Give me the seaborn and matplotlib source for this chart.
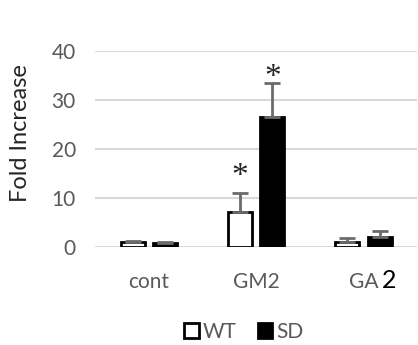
import pandas as pd
import seaborn as sns
import matplotlib.pyplot as plt
from matplotlib.patches import Patch

# values
categories = ["cont", "GM2", "GA"]
groups = ["WT", "SD"]
wt_mean = [1.0, 7.1, 1.1]
wt_err = [0.2, 4.0, 0.7]
sd_mean = [0.8, 26.6, 2.1]
sd_err = [0.2, 6.8, 1.2]
star_cat = ["GM2", "GM2"]
star_group = ["WT", "SD"]
star_y = [15.0, 35.2]

df = pd.DataFrame({
    "cat": categories * 2,
    "group": ["WT"] * 3 + ["SD"] * 3,
    "val": wt_mean + sd_mean,
    "err": wt_err + sd_err,
})

sns.set_style("white")
plt.rcParams["font.family"] = ["Lato", "DejaVu Sans"]

fig = plt.figure(figsize=(4.18, 3.45), dpi=100)
ax = fig.add_axes([0.228, 0.284, 0.77, 0.568])

sns.barplot(data=df, x="cat", y="val", hue="group", order=categories,
            hue_order=groups, palette={"WT": "white", "SD": "black"},
            width=0.6, gap=0.25, edgecolor="black", linewidth=2,
            errorbar=None, legend=False, ax=ax, zorder=3)

# error bars (upper only)
bars = [p for p in ax.patches if p.get_height() > 0]
xpos = {}
for p, (_, row) in zip(bars, df.iterrows()):
    xc = p.get_x() + p.get_width() / 2
    xpos[(row["cat"], row["group"])] = xc
    ax.errorbar(xc, row["val"], yerr=[[0], [row["err"]]], fmt="none",
                ecolor="#6b6b6b", elinewidth=2, capsize=6, capthick=2, zorder=4)

# significance asterisks
for c, g, y in zip(star_cat, star_group, star_y):
    ax.text(xpos[(c, g)], y, "*", ha="center", va="center_baseline",
            fontsize=24, family="Liberation Serif")

ax.set_ylim(0, 40)
ax.set_yticks([0, 10, 20, 30, 40])
ax.grid(axis="y", color="#d9d9d9", linewidth=1.5, zorder=0)
ax.set_axisbelow(True)
for s in ax.spines.values():
    s.set_visible(False)
ax.tick_params(axis="y", labelsize=15, labelcolor="#595959", length=0, pad=14)
ax.tick_params(axis="x", labelsize=15, labelcolor="#595959", length=0, pad=18)
ax.set_xlabel("")
ax.set_ylabel("Fold Increase", fontsize=17)
ax.yaxis.set_label_coords(-0.20, 0.58)
ax.set_xlim(-0.5, 2.5)

# the odd black "2" after "GA", on the tick label baseline
ax.annotate("2", xy=(2.24, 0), xycoords=ax.get_xaxis_transform(),
            xytext=(0, -29.5), textcoords="offset points", fontsize=18,
            color="black", ha="center", va="baseline")

handles = [Patch(facecolor="white", edgecolor="black", linewidth=2),
           Patch(facecolor="black", edgecolor="black", linewidth=2)]
fig.legend(handles, groups, loc="center", bbox_to_anchor=(0.584, 0.038), ncol=2,
           frameon=False, fontsize=15, handlelength=0.7, handleheight=0.7,
           handletextpad=0.2, columnspacing=1.0, labelcolor="#595959")

fig.savefig("out.png", dpi=100)
